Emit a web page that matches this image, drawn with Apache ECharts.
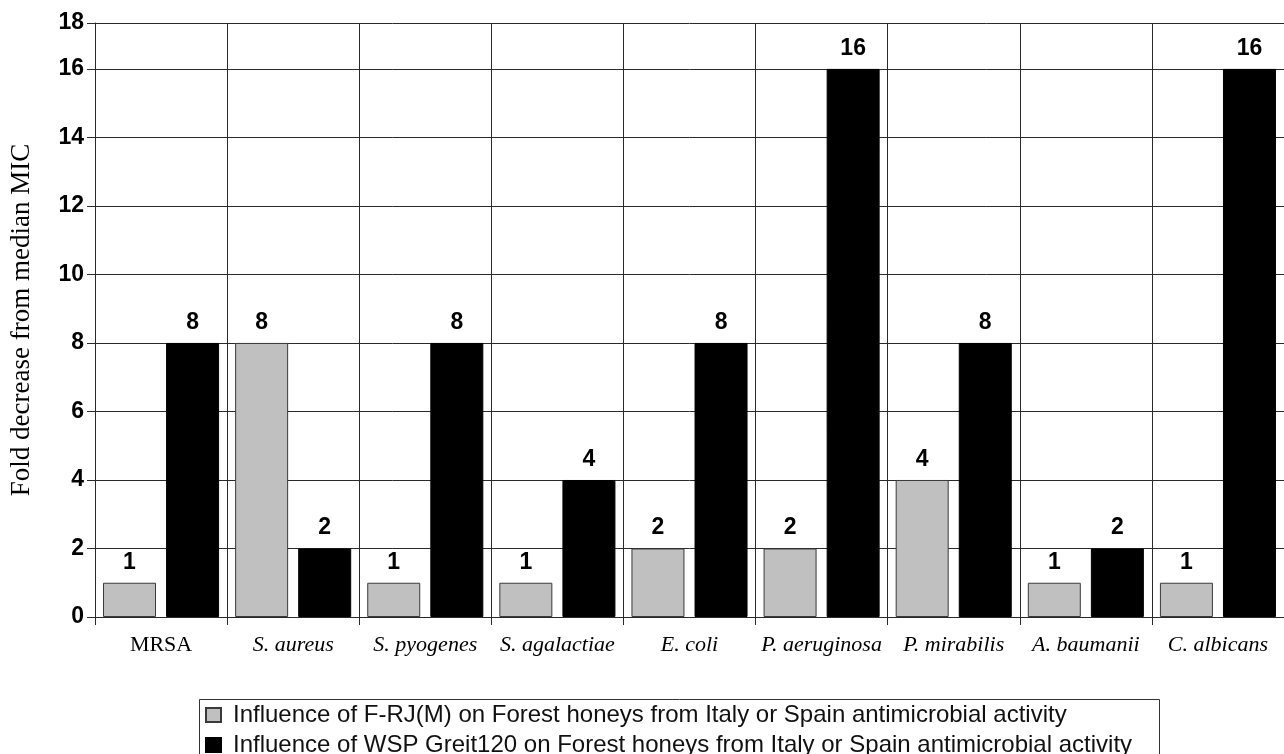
<!DOCTYPE html>
<html>
<head>
<meta charset="utf-8">
<script src="https://cdn.jsdelivr.net/npm/echarts@6/dist/echarts.min.js"></script>
<style>
html,body{margin:0;padding:0;background:#fff;}
#chart{width:1284px;height:754px;}
</style>
</head>
<body>
<div id="chart"></div>
<script>
const categories = ['MRSA', 'S. aureus', 'S. pyogenes', 'S. agalactiae', 'E. coli', 'P. aeruginosa', 'P. mirabilis', 'A. baumanii', 'C. albicans'];
const italicCats = [false, true, true, true, true, true, true, true, true];
const seriesNames = [
  'Influence of F-RJ(M) on Forest honeys from Italy or Spain antimicrobial activity',
  'Influence of WSP Greit120 on Forest honeys from Italy or Spain antimicrobial activity'
];
const fRJ = [1, 8, 1, 1, 2, 2, 4, 1, 1];
const wsp = [8, 2, 8, 4, 8, 16, 8, 2, 16];
const yTickLabels = ['0', '2', '4', '6', '8', '10', '12', '14', '16', '18'];

const chart = echarts.init(document.getElementById('chart'));
const sans = 'Liberation Sans, Arial, sans-serif';
const serif = 'Liberation Serif, Times New Roman, serif';
const lineCol = '#2a2a2a';

chart.setOption({
  animation: false,
  backgroundColor: '#fff',
  grid: {left: 95, right: -5, top: 23, bottom: 137, containLabel: false},
  graphic: [{
    type: 'rect', left: 197, top: 697, silent: true,
    shape: {width: 960, height: 80},
    style: {fill: 'none', stroke: '#333', lineWidth: 1}
  }],
  legend: {
    orient: 'vertical',
    left: 205, top: 703, height: 120,
    padding: 0,
    itemWidth: 15, itemHeight: 14, itemGap: 6,
    icon: 'rect',
    textStyle: {fontFamily: sans, fontSize: 24, color: '#111', padding: [0, 0, 0, 7], lineHeight: 14},
    data: seriesNames
  },
  xAxis: {
    type: 'category',
    data: categories,
    axisLine: {lineStyle: {color: lineCol, width: 1}},
    axisTick: {show: true, length: 8, lineStyle: {color: lineCol}},
    splitLine: {show: true, lineStyle: {color: lineCol, width: 1}},
    axisLabel: {
      margin: 17,
      interval: 0,
      formatter: function (v, i) { return italicCats[i] ? '{i|' + v + '}' : '{n|' + v + '}'; },
      rich: {
        i: {fontFamily: serif, fontSize: 22, fontStyle: 'italic', color: '#000'},
        n: {fontFamily: serif, fontSize: 22, color: '#000'}
      }
    }
  },
  yAxis: {
    type: 'value',
    min: 0, max: 17.34, interval: 2,
    name: 'Fold decrease from median MIC',
    nameLocation: 'middle',
    nameGap: 60,
    nameTextStyle: {fontFamily: serif, fontSize: 27, color: '#000'},
    axisLine: {show: true, lineStyle: {color: lineCol, width: 1}},
    axisTick: {show: true, length: 8, lineStyle: {color: lineCol}},
    splitLine: {show: true, lineStyle: {color: lineCol, width: 1}},
    axisLabel: {
      margin: 11,
      fontFamily: sans, fontSize: 23, fontWeight: 'bold', color: '#000',
      showMaxLabel: true,
      formatter: function (v) { return yTickLabels[Math.round(v / 2)]; }
    }
  },
  series: [
    {
      name: seriesNames[0], type: 'bar', data: fRJ,
      barWidth: 53, barGap: '19%',
      itemStyle: {color: '#c0c0c0', borderColor: '#3a3a3a', borderWidth: 1},
      label: {show: true, position: 'top', distance: 9, fontFamily: sans, fontSize: 23, fontWeight: 'bold', color: '#000'}
    },
    {
      name: seriesNames[1], type: 'bar', data: wsp,
      barWidth: 53, barGap: '19%',
      itemStyle: {color: '#000', borderColor: '#000', borderWidth: 1},
      label: {show: true, position: 'top', distance: 9, fontFamily: sans, fontSize: 23, fontWeight: 'bold', color: '#000'}
    }
  ]
});
</script>
</body>
</html>
